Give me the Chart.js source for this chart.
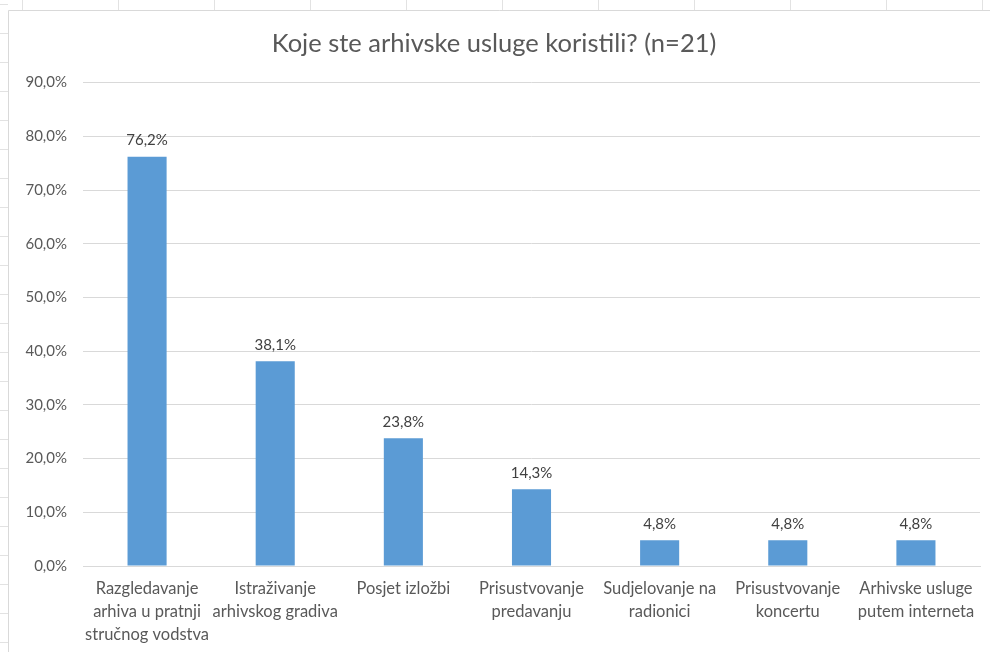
<!DOCTYPE html>
<html>
<head>
<meta charset="utf-8">
<script src="https://cdn.jsdelivr.net/npm/chart.js@4.4.1/dist/chart.umd.min.js"></script>
<style>
  html, body { margin: 0; padding: 0; background: #ffffff; }
  #wrap { position: relative; width: 990px; height: 652px; }
  canvas { display: block; }
</style>
</head>
<body>
<div id="wrap"><canvas id="c" width="990" height="652"></canvas></div>
<script>
const titleText = "Koje ste arhivske usluge koristili? (n=21)";
const categories = [
  ["Razgledavanje", "arhiva u pratnji", "stručnog vodstva"],
  ["Istraživanje", "arhivskog gradiva"],
  ["Posjet izložbi"],
  ["Prisustvovanje", "predavanju"],
  ["Sudjelovanje na", "radionici"],
  ["Prisustvovanje", "koncertu"],
  ["Arhivske usluge", "putem interneta"]
];
const values = [76.2, 38.1, 23.8, 14.3, 4.8, 4.8, 4.8];
const yMin = 0, yMax = 90, yStep = 10;

const FONT = "Lato, 'Open Sans', sans-serif";
const fmt = v => v.toFixed(1).replace('.', ',') + '%';

const framePlugin = {
  id: 'frame',
  beforeDraw(chart) {
    const ctx = chart.ctx;
    ctx.save();
    ctx.fillStyle = '#ffffff';
    ctx.fillRect(0, 0, chart.width, chart.height);
    ctx.strokeStyle = '#e2e2e2';
    ctx.lineWidth = 1;
    // sheet grid stubs above / left of the chart
    for (let x = 22; x < 990; x += 96) {
      ctx.beginPath(); ctx.moveTo(x + 0.5, 0); ctx.lineTo(x + 0.5, 10); ctx.stroke();
    }
    for (let y = 4; y < 652; y += 29) {
      ctx.beginPath(); ctx.moveTo(0, y + 0.5); ctx.lineTo(8, y + 0.5); ctx.stroke();
    }
    // chart border
    ctx.strokeStyle = '#d9d9d9';
    ctx.beginPath();
    ctx.moveTo(8.5, 652); ctx.lineTo(8.5, 10.5); ctx.lineTo(990, 10.5);
    ctx.stroke();
    ctx.restore();
  }
};

const labelPlugin = {
  id: 'barLabels',
  afterDatasetsDraw(chart) {
    const ctx = chart.ctx;
    const meta = chart.getDatasetMeta(0);
    ctx.save();
    ctx.font = "15px " + FONT;
    ctx.fillStyle = '#404040';
    ctx.textAlign = 'center';
    ctx.textBaseline = 'bottom';
    meta.data.forEach((bar, i) => {
      ctx.fillText(fmt(values[i]), bar.x, bar.y - 9);
    });
    ctx.restore();
  }
};

new Chart(document.getElementById('c'), {
  type: 'bar',
  data: {
    labels: categories,
    datasets: [{
      data: values,
      backgroundColor: '#5b9bd5',
      borderWidth: 0,
      barPercentage: 1,
      categoryPercentage: 0.305
    }]
  },
  options: {
    responsive: false,
    animation: false,
    devicePixelRatio: 1,
    layout: { padding: { left: 8, right: 10, top: 0, bottom: 0 } },
    plugins: {
      legend: { display: false },
      tooltip: { enabled: false },
      title: {
        display: true,
        text: titleText,
        color: '#595959',
        font: { family: FONT, size: 25.5, weight: 'normal' },
        padding: { top: 28, bottom: 24 }
      }
    },
    scales: {
      x: {
        grid: { display: false, drawTicks: false },
        border: { display: true, color: '#d9d9d9' },
        ticks: {
          color: '#595959',
          font: { family: FONT, size: 16.5, lineHeight: 1.4 },
          maxRotation: 0, autoSkip: false, padding: 11
        },
        afterFit(scale) { scale.height = 86; }
      },
      y: {
        min: yMin, max: yMax,
        grid: { color: '#d9d9d9', drawTicks: false },
        border: { display: false },
        ticks: {
          stepSize: yStep,
          color: '#595959',
          font: { family: FONT, size: 15 },
          padding: 16,
          callback: v => fmt(v)
        },
        afterFit(scale) { scale.width = 75; }
      }
    }
  },
  plugins: [framePlugin, labelPlugin]
});
</script>
</body>
</html>
